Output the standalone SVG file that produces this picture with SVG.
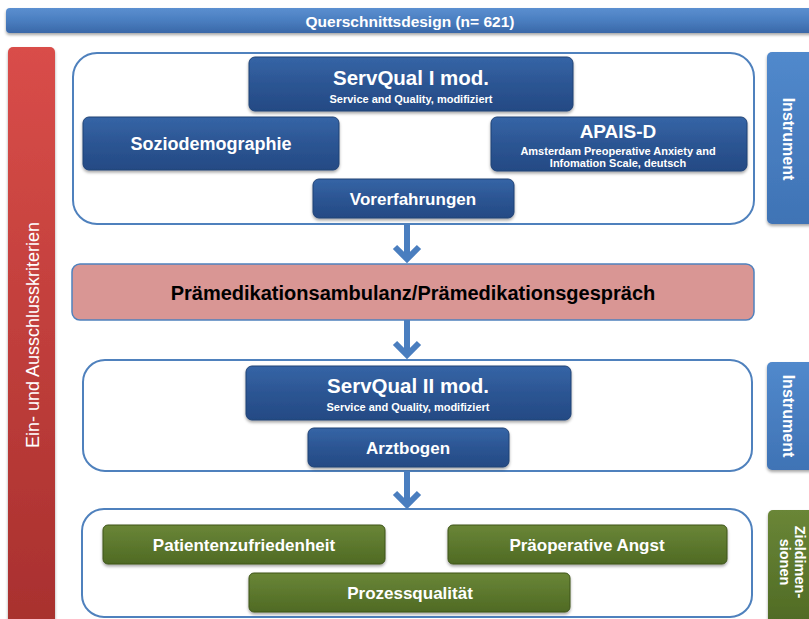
<svg xmlns="http://www.w3.org/2000/svg" width="809" height="619" viewBox="0 0 809 619">
<defs>
<linearGradient id="gBlue" x1="0" y1="0" x2="0" y2="1">
<stop offset="0" stop-color="#3565a6"/><stop offset="0.5" stop-color="#2c5593"/><stop offset="1" stop-color="#244a84"/>
</linearGradient>
<linearGradient id="gTab" x1="0" y1="0" x2="0" y2="1">
<stop offset="0" stop-color="#5189cc"/><stop offset="1" stop-color="#3f73b5"/>
</linearGradient>
<linearGradient id="gHead" x1="0" y1="0" x2="0" y2="1">
<stop offset="0" stop-color="#5b8fd0"/><stop offset="0.5" stop-color="#4a7ec0"/><stop offset="1" stop-color="#3a68a8"/>
</linearGradient>
<linearGradient id="gRed" x1="0" y1="0" x2="0" y2="1">
<stop offset="0" stop-color="#d94d49"/><stop offset="1" stop-color="#a8302e"/>
</linearGradient>
<linearGradient id="gGreen" x1="0" y1="0" x2="0" y2="1">
<stop offset="0" stop-color="#6a8637"/><stop offset="1" stop-color="#4f6a24"/>
</linearGradient>
<filter id="sh" x="-10%" y="-20%" width="120%" height="150%">
<feDropShadow dx="0" dy="2" stdDeviation="1.5" flood-color="#000" flood-opacity="0.35"/>
</filter>
<marker id="ah" markerUnits="userSpaceOnUse" viewBox="-18 -16 22 32" markerWidth="22" markerHeight="32" refX="0" refY="0" orient="auto">
<path d="M-12,-12 L0,0 L-12,12" fill="none" stroke="#4a7ebf" stroke-width="6"/>
</marker>
<style>
.t{font-family:"Liberation Sans",Arial,sans-serif;fill:#fff;text-anchor:middle;font-weight:bold}
.n{font-weight:normal}
.box{fill:url(#gBlue);stroke:#1f4275;stroke-width:1;filter:url(#sh)}
.grn{fill:url(#gGreen);stroke:#3e551b;stroke-width:1;filter:url(#sh)}
.cont{fill:#fff;stroke:#4f81bd;stroke-width:2}
.tab{fill:url(#gTab);filter:url(#sh)}
.conn{stroke:#4a7ebf;stroke-width:6;fill:none}
</style>
</defs>
<rect width="809" height="619" fill="#fff"/>

<g id="header">
<rect x="6" y="8" width="810" height="25" rx="4" fill="url(#gHead)" filter="url(#sh)"/>
<text class="t" x="410" y="26.5" font-size="15.5">Querschnittsdesign (n= 621)</text>
</g>

<g id="kriterien">
<rect x="8" y="47" width="47" height="580" rx="5" fill="url(#gRed)" filter="url(#sh)"/>
<text class="t n" font-size="18" transform="translate(39 335) rotate(-90)">Ein- und Ausschlusskriterien</text>
</g>

<g id="container1"><rect class="cont" x="73" y="53" width="681" height="171" rx="24"/></g>
<g id="container2"><rect class="cont" x="83" y="360" width="669" height="111" rx="22"/></g>
<g id="container3"><rect class="cont" x="82" y="509" width="670" height="108" rx="22"/></g>

<g id="tab1">
<rect class="tab" x="767" y="52" width="50" height="172" rx="5"/>
<text class="t" font-size="16" transform="translate(783 139) rotate(90)">Instrument</text>
</g>
<g id="tab2">
<rect class="tab" x="767" y="362" width="50" height="108" rx="5"/>
<text class="t" font-size="16" transform="translate(783 416) rotate(90)">Instrument</text>
</g>
<g id="tab3">
<rect x="768" y="510" width="50" height="115" rx="5" fill="url(#gGreen)" filter="url(#sh)"/>
<text class="t" font-size="14.5" transform="translate(795 562) rotate(90)">Zieldimen-</text>
<text class="t" font-size="14.5" transform="translate(780 562) rotate(90)">sionen</text>
</g>

<g id="servqual1">
<rect class="box" x="249" y="57" width="324" height="54" rx="6"/>
<text class="t" x="411" y="85" font-size="20.5">ServQual I mod.</text>
<text class="t" x="411" y="103" font-size="11">Service and Quality, modifiziert</text>
</g>
<g id="sozio">
<rect class="box" x="83" y="117" width="256" height="53" rx="6"/>
<text class="t" x="211" y="150" font-size="18">Soziodemographie</text>
</g>
<g id="apais">
<rect class="box" x="491" y="117" width="256" height="54" rx="6"/>
<text class="t" x="618" y="138" font-size="19">APAIS-D</text>
<text class="t" x="618" y="155" font-size="11">Amsterdam Preoperative Anxiety and</text>
<text class="t" x="618" y="167" font-size="11">Infomation Scale, deutsch</text>
</g>
<g id="vorerfahrungen">
<rect class="box" x="313" y="179" width="201" height="39" rx="6"/>
<text class="t" x="413" y="205" font-size="17">Vorerfahrungen</text>
</g>

<g id="praemed">
<rect x="72" y="264" width="682" height="56" rx="8" fill="#d99694" stroke="#4f81bd" stroke-width="1.5"/>
<text class="t" style="fill:#000" x="413" y="300" font-size="20">Prämedikationsambulanz/Prämedikationsgespräch</text>
</g>

<g id="servqual2">
<rect class="box" x="246" y="366" width="325" height="54" rx="6"/>
<text class="t" x="408" y="393" font-size="20.5">ServQual II mod.</text>
<text class="t" x="408" y="411" font-size="11">Service and Quality, modifiziert</text>
</g>
<g id="arztbogen">
<rect class="box" x="308" y="428" width="201" height="39" rx="6"/>
<text class="t" x="408" y="454" font-size="17">Arztbogen</text>
</g>

<g id="patzuf">
<rect class="grn" x="103" y="525" width="282" height="39" rx="5"/>
<text class="t" x="244" y="551" font-size="17">Patientenzufriedenheit</text>
</g>
<g id="angst">
<rect class="grn" x="448" y="525" width="279" height="39" rx="5"/>
<text class="t" x="587" y="551" font-size="17">Präoperative Angst</text>
</g>
<g id="prozess">
<rect class="grn" x="249" y="573" width="321" height="39" rx="5"/>
<text class="t" x="410" y="599" font-size="17">Prozessqualität</text>
</g>

<g id="connectors">
<path class="conn" d="M407 224 V259" marker-end="url(#ah)"/>
<path class="conn" d="M407 320 V355" marker-end="url(#ah)"/>
<path class="conn" d="M407 471 V505" marker-end="url(#ah)"/>
</g>
</svg>
